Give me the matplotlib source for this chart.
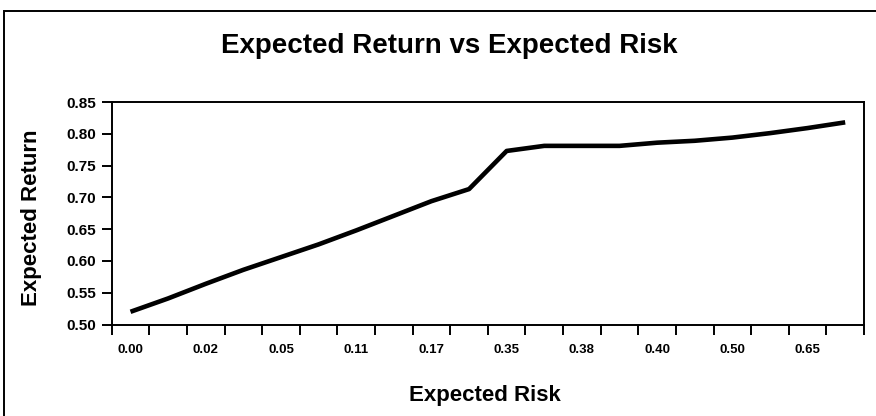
import matplotlib
matplotlib.use("Agg")
import matplotlib.pyplot as plt
from matplotlib.patches import Rectangle
from matplotlib.ticker import FixedLocator, NullFormatter, FixedFormatter

# Expected return for each point on the frontier (one per category)
expected_return = [0.520, 0.541, 0.564, 0.586, 0.606, 0.626, 0.648, 0.671, 0.694, 0.713,
                   0.773, 0.781, 0.781, 0.781, 0.786, 0.789, 0.794, 0.801, 0.809, 0.818]
# Expected risk labels shown on every second category
risk_labels = ["0.00", "0.02", "0.05", "0.11", "0.17", "0.35", "0.38", "0.40", "0.50", "0.65"]
y_ticks = [0.50, 0.55, 0.60, 0.65, 0.70, 0.75, 0.80, 0.85]

plt.rcParams["font.family"] = ["Liberation Sans", "DejaVu Sans"]

fig = plt.figure(figsize=(8.76, 4.16), dpi=100)
fig.patch.set_facecolor("white")

# outer chart frame (continues past the right and bottom edges)
fig.patches.append(Rectangle((4 / 876, -0.1), 1.2, 1 - 10.7 / 416 + 0.1,
                             transform=fig.transFigure, fill=False,
                             edgecolor="black", linewidth=1.4))

ax = fig.add_axes([111.7 / 876, 1 - 324.5 / 416, (864 - 111.7) / 876, (324.5 - 102) / 416])
n = len(expected_return)
cats = list(range(n))
ax.plot(cats, expected_return, color="black", linewidth=3.3, solid_capstyle="butt",
        solid_joinstyle="round")

ax.set_xlim(-0.5, n - 0.5)
ax.set_ylim(0.50, 0.85)

# tick marks sit between categories; labels are centred on every second category
ax.xaxis.set_major_locator(FixedLocator([i - 0.5 for i in range(n + 1)]))
ax.xaxis.set_major_formatter(NullFormatter())
ax.xaxis.set_minor_locator(FixedLocator(cats[::2]))
ax.xaxis.set_minor_formatter(FixedFormatter(risk_labels))
ax.tick_params(axis="x", which="major", direction="out", length=7, width=1.4, color="black")
ax.tick_params(axis="x", which="minor", length=0, pad=14, labelsize=9.5)

ax.set_yticks(y_ticks)
ax.set_yticklabels([f"{v:.2f}" for v in y_ticks])
ax.tick_params(axis="y", direction="out", length=7, width=1.4, pad=4, labelsize=11)

for lab in ax.get_xticklabels(minor=True) + ax.get_yticklabels():
    lab.set_fontweight("bold")

for sp in ax.spines.values():
    sp.set_linewidth(1.4)
    sp.set_color("black")

fig.text(449 / 876, 1 - 53 / 416, "Expected Return vs Expected Risk",
         ha="center", va="baseline", fontsize=20, fontweight="bold")
fig.text(485 / 876, 1 - 395 / 416, "Expected Risk",
         ha="center", va="center", fontsize=16, fontweight="bold")
fig.text(32 / 876, 1 - 218 / 416, "Expected Return", rotation=90,
         ha="center", va="center", fontsize=16, fontweight="bold")

fig.savefig("out.png", dpi=100)
